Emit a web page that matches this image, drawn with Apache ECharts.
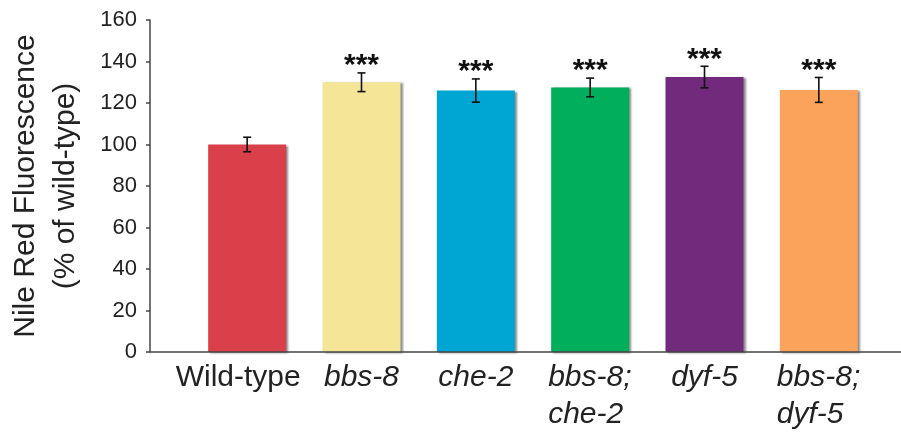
<!DOCTYPE html>
<html>
<head>
<meta charset="utf-8">
<script src="https://cdn.jsdelivr.net/npm/echarts@6/dist/echarts.min.js"></script>
<style>html,body{margin:0;padding:0;background:#fff}#c{width:901px;height:432px}</style>
</head>
<body>
<div id="c"></div>
<script>
const categories = ['Wild-type', 'bbs-8', 'che-2', 'bbs-8;\nche-2', 'dyf-5', 'bbs-8;\ndyf-5'];
const values = [100, 130, 126, 127.5, 132.5, 126.3];
const errors = [3.5, 4.5, 5.6, 4.5, 5.2, 6];
const significance = ['', '***', '***', '***', '***', '***'];
const barColors = ['#d9404a', '#f4e597', '#00a6d3', '#00ae5b', '#722a7c', '#fba35a'];
const yTicks = [0, 20, 40, 60, 80, 100, 120, 140, 160];

const FONT = '"Liberation Sans", Arial, Helvetica, sans-serif';
const chart = echarts.init(document.getElementById('c'), null, {renderer: 'canvas'});

const gridLeft = 190, gridRight = 25, gridTop = 20, gridBottom = 80;
const axisX = 150;

// measure multi-line labels so their lines can be left-aligned within a centred block
const mctx = document.createElement('canvas').getContext('2d');
mctx.font = 'italic 30px ' + FONT;
const rich = {
  n: {fontFamily: FONT, fontSize: 30, color: '#222', lineHeight: 37, padding: [0, 18, 0, 0]},
  it: {fontFamily: FONT, fontSize: 30, fontStyle: 'italic', color: '#222', lineHeight: 37}
};
categories.forEach((c, i) => {
  const lines = c.split('\n');
  if (lines.length > 1) {
    const w = Math.ceil(Math.max(...lines.map(s => mctx.measureText(s).width)));
    rich['m' + i] = {fontFamily: FONT, fontSize: 30, fontStyle: 'italic', color: '#222', lineHeight: 37, width: w, align: 'left'};
  }
});

chart.setOption({
  animation: false,
  backgroundColor: '#fff',
  grid: {left: gridLeft, right: gridRight, top: gridTop, bottom: gridBottom, containLabel: false, outerBoundsMode: 'none'},
  xAxis: {
    type: 'category',
    data: categories,
    axisLine: {show: false},
    axisTick: {show: false},
    axisLabel: {
      margin: 7,
      interval: 0,
      formatter: function (v, i) {
        if (i === 0) return '{n|' + v + '}';
        const lines = v.split('\n');
        if (lines.length > 1) return lines.map(s => '{m' + i + '|' + s + '}').join('\n');
        return '{it|' + v + '}';
      },
      rich: rich
    }
  },
  yAxis: {
    type: 'value',
    min: yTicks[0],
    max: yTicks[yTicks.length - 1],
    interval: 20,
    offset: gridLeft - axisX,
    name: 'Nile Red Fluorescence\n(% of wild-type)',
    nameLocation: 'middle',
    nameGap: 64,
    nameTextStyle: {fontFamily: FONT, fontSize: 30, color: '#222', lineHeight: 40},
    axisLine: {show: true, lineStyle: {color: '#444', width: 1.5}},
    axisTick: {show: true, length: 4, lineStyle: {color: '#444', width: 1.5}},
    axisLabel: {fontFamily: FONT, fontSize: 22, color: '#222', margin: 13},
    splitLine: {show: false}
  },
  graphic: [{
    type: 'line',
    shape: {x1: axisX, y1: 432 - gridBottom, x2: 901, y2: 432 - gridBottom},
    style: {stroke: '#444', lineWidth: 1.5},
    z: 10
  }],
  series: [
    {
      type: 'bar',
      data: values.map((v, i) => ({value: v, itemStyle: {color: barColors[i]}})),
      barWidth: 78,
      itemStyle: {
        shadowColor: 'rgba(0,0,0,0.45)',
        shadowBlur: 2,
        shadowOffsetX: 2,
        shadowOffsetY: 1
      }
    },
    {
      type: 'custom',
      data: values.map((v, i) => [i, v - errors[i], v + errors[i], significance[i]]),
      renderItem: function (params, api) {
        const i = api.value(0);
        const lo = api.coord([i, api.value(1)]);
        const hi = api.coord([i, api.value(2)]);
        const x = lo[0];
        const cap = 4;
        const children = [
          {type: 'line', shape: {x1: x, y1: lo[1], x2: x, y2: hi[1]}, style: {stroke: '#111', lineWidth: 1.6}},
          {type: 'line', shape: {x1: x - cap, y1: lo[1], x2: x + cap, y2: lo[1]}, style: {stroke: '#111', lineWidth: 1.6}},
          {type: 'line', shape: {x1: x - cap, y1: hi[1], x2: x + cap, y2: hi[1]}, style: {stroke: '#111', lineWidth: 1.6}}
        ];
        const sig = significance[params.dataIndex];
        if (sig) {
          children.push({
            type: 'text',
            style: {
              text: sig, x: x, y: hi[1] - 7,
              align: 'center', verticalAlign: 'middle',
              font: 'bold 30px ' + FONT, fill: '#111'
            }
          });
        }
        return {type: 'group', children: children};
      },
      z: 5
    }
  ]
});
</script>
</body>
</html>
